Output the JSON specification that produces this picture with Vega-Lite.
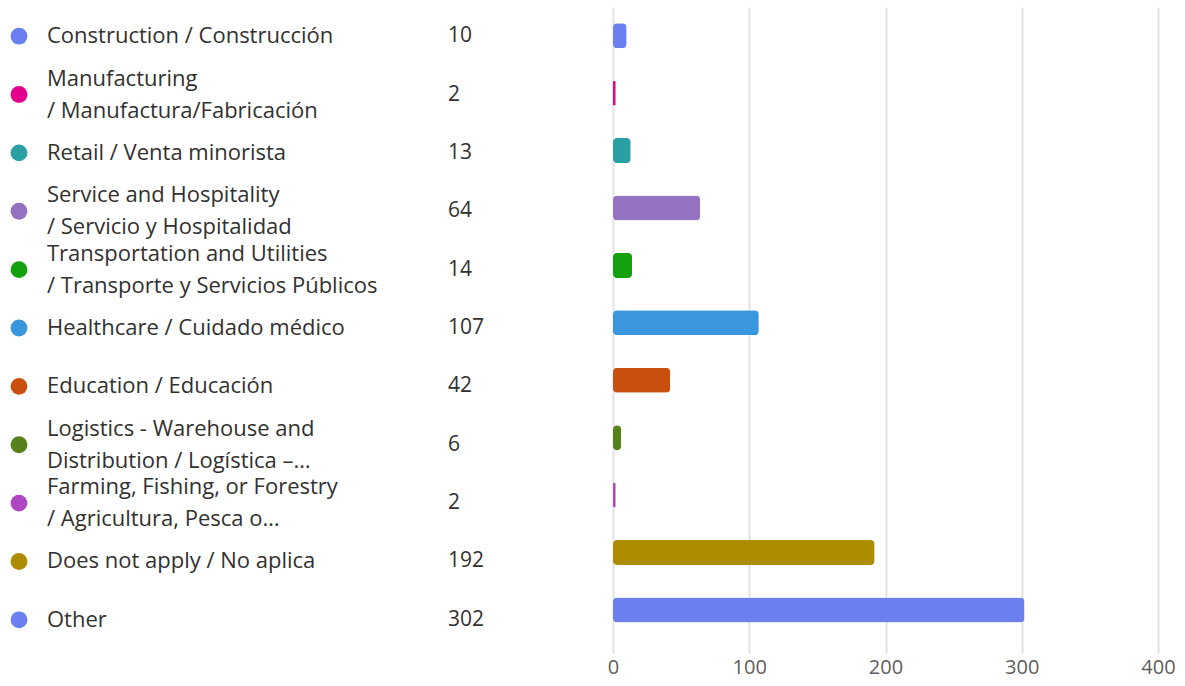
{
  "$schema": "https://vega.github.io/schema/vega-lite/v6.json",
  "padding": {"left": 0, "top": 7, "right": 0, "bottom": 0},
  "autosize": {"type": "pad"},
  "background": "white",
  "config": {"view": {"stroke": null}, "font": "Open Sans"},
  "data": {"values": [
    {"category": "Construction", "label": "Construction / Construcción", "count": 10},
    {"category": "Manufacturing", "label": "Manufacturing\n/ Manufactura/Fabricación", "count": 2},
    {"category": "Retail", "label": "Retail / Venta minorista", "count": 13},
    {"category": "Service", "label": "Service and Hospitality\n/ Servicio y Hospitalidad", "count": 64},
    {"category": "Transportation", "label": "Transportation and Utilities\n/ Transporte y Servicios Públicos", "count": 14},
    {"category": "Healthcare", "label": "Healthcare / Cuidado médico", "count": 107},
    {"category": "Education", "label": "Education / Educación", "count": 42},
    {"category": "Logistics", "label": "Logistics - Warehouse and\nDistribution / Logística –…", "count": 6},
    {"category": "Farming", "label": "Farming, Fishing, or Forestry\n/ Agricultura, Pesca o…", "count": 2},
    {"category": "DoesNotApply", "label": "Does not apply / No aplica", "count": 192},
    {"category": "Other", "label": "Other", "count": 302}
  ]},
  "hconcat": [
    {
      "width": 607,
      "height": 642,
      "encoding": {
        "y": {"field": "category", "type": "nominal", "sort": null, "axis": null,
              "scale": {"paddingInner": 0, "paddingOuter": 0}}
      },
      "layer": [
        {
          "mark": {"type": "point", "filled": true, "size": 284, "opacity": 1},
          "encoding": {
            "x": {"datum": 19, "type": "quantitative", "scale": {"domain": [0, 607], "nice": false, "zero": false}, "axis": null},
            "color": {"field": "category", "type": "nominal", "sort": null, "legend": null,
              "scale": {
                "domain": ["Construction","Manufacturing","Retail","Service","Transportation","Healthcare","Education","Logistics","Farming","DoesNotApply","Other"],
                "range": ["#6B80EE","#E3008C","#2AA0A4","#9373C0","#13A10E","#3A96DD","#CA5010","#57811B","#B146C2","#AE8C00","#6B80EE"]
              }}
          }
        },
        {
          "transform": [{"filter": "indexof(datum.label, '\\n') < 0"}],
          "mark": {"type": "text", "align": "left", "baseline": "middle", "fontSize": 22, "color": "#323130"},
          "encoding": {
            "x": {"datum": 47, "type": "quantitative"},
            "text": {"field": "label"}
          }
        },
        {
          "transform": [{"filter": "indexof(datum.label, '\\n') >= 0"}],
          "mark": {"type": "text", "align": "left", "baseline": "middle", "fontSize": 22, "lineBreak": "\n", "lineHeight": 32, "dy": -16, "color": "#323130"},
          "encoding": {
            "x": {"datum": 47, "type": "quantitative"},
            "text": {"field": "label"}
          }
        },
        {
          "mark": {"type": "text", "align": "left", "baseline": "middle", "fontSize": 21, "color": "#323130"},
          "encoding": {
            "x": {"datum": 448, "type": "quantitative"},
            "text": {"field": "count"}
          }
        }
      ]
    },
    {
      "width": 545,
      "height": 646,
      "mark": {"type": "bar", "cornerRadius": 4, "size": 25},
      "encoding": {
        "y": {"field": "category", "type": "nominal", "sort": null, "axis": null,
              "scale": {"paddingInner": 0, "paddingOuter": 0.125, "align": 0}},
        "x": {"field": "count", "type": "quantitative",
              "scale": {"domain": [0, 400], "nice": false},
              "axis": {"title": null, "values": [0, 100, 200, 300, 400], "ticks": false, "domain": false,
                       "grid": true, "gridColor": "#e3e3e3", "gridWidth": 2,
                       "labelFontSize": 20, "labelColor": "#605e5c", "labelPadding": 4, "labelFont": "Open Sans",
                       "labelFlush": false}},
        "color": {"field": "category", "type": "nominal", "sort": null, "legend": null,
              "scale": {
                "domain": ["Construction","Manufacturing","Retail","Service","Transportation","Healthcare","Education","Logistics","Farming","DoesNotApply","Other"],
                "range": ["#6B80EE","#E3008C","#2AA0A4","#9373C0","#13A10E","#3A96DD","#CA5010","#57811B","#B146C2","#AE8C00","#6B80EE"]
              }}
      }
    }
  ],
  "spacing": 0,
  "resolve": {"scale": {"y": "independent", "x": "independent"}}
}
